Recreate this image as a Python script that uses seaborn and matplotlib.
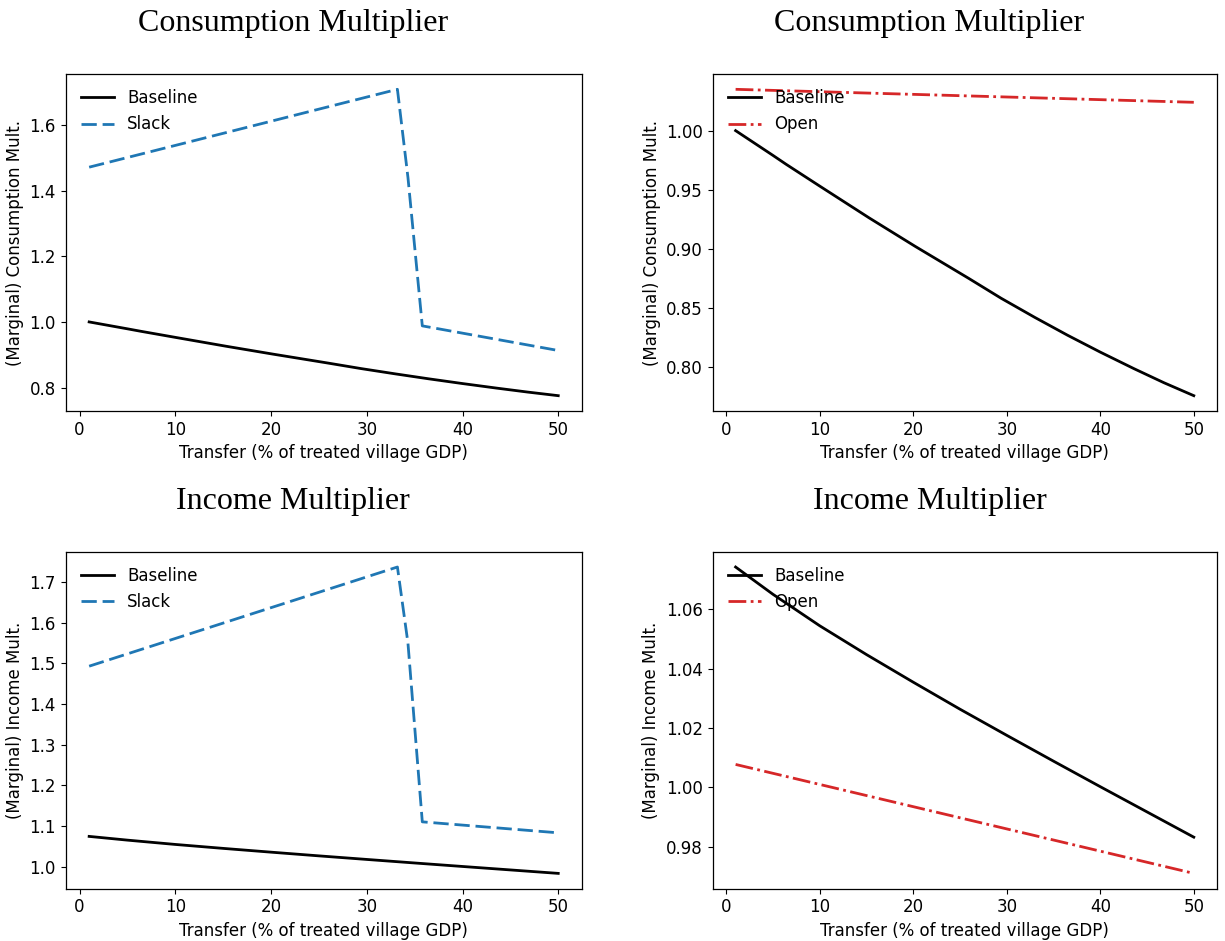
import matplotlib
matplotlib.use("Agg")
import matplotlib.pyplot as plt
import seaborn as sns

# Transfer sizes (% of treated village GDP) and multiplier paths
x_baseline_cons = [1, 5, 6.4, 10, 15.3, 20.2, 25.9, 29.4, 33, 36.5, 40, 43.6, 46.8, 50]
cons_baseline = [1.000, 0.979, 0.9715, 0.953, 0.926, 0.902, 0.875, 0.858, 0.8418, 0.8267,
                 0.8124, 0.7984, 0.7865, 0.7755]

x_baseline_inc = [1, 5, 10, 15, 20, 25, 30, 35, 40, 45, 50]
income_baseline = [1.0742, 1.0650, 1.0544, 1.0447, 1.0354, 1.0263, 1.0175, 1.0088, 1.0002,
                   0.9917, 0.9832]

x_slack = [1, 33.2, 34.3, 35.8, 50]
cons_slack = [1.471, 1.708, 1.44, 0.988, 0.913]
income_slack = [1.493, 1.737, 1.55, 1.110, 1.083]

x_open = [1, 50]
cons_open = [1.035, 1.024]
income_open = [1.0077, 0.971]

panel_titles = ["Consumption Multiplier", "Income Multiplier"]
y_labels = ["(Marginal) Consumption Mult.", "(Marginal) Income Mult."]
x_label = "Transfer (% of treated village GDP)"

plt.rcParams.update({
    "font.family": "DejaVu Sans",
    "font.size": 12,
    "axes.linewidth": 0.9,
})

fig = plt.figure(figsize=(12.25, 9.41), dpi=100)
W, H = 1225, 941

def rect(left, right, top, bottom):
    return [left / W, 1 - bottom / H, (right - left) / W, (bottom - top) / H]

ax_tl = fig.add_axes(rect(65.7, 581.7, 74, 411))
ax_tr = fig.add_axes(rect(712.7, 1216.7, 74, 411))
ax_bl = fig.add_axes(rect(65.7, 581.7, 551.7, 888.7))
ax_br = fig.add_axes(rect(712.7, 1216.7, 551.7, 888.7))

LW = 2.0
slack_color = "#1f77b4"
open_color = "#d62728"

def draw(ax, xb, yb, xo, yo, other_label, other_color, other_ls, other_dashes):
    sns.lineplot(x=xb, y=yb, ax=ax, color="black", lw=LW, label="Baseline",
                 sort=False, estimator=None)
    line_kw = dict(color=other_color, lw=LW, label=other_label, sort=False, estimator=None)
    sns.lineplot(x=xo, y=yo, ax=ax, linestyle=other_ls, **line_kw)
    if other_dashes is not None:
        ax.get_lines()[-1].set_dashes(other_dashes)

draw(ax_tl, x_baseline_cons, cons_baseline, x_slack, cons_slack, "Slack", slack_color, "--", (5.5, 2.1))
draw(ax_tr, x_baseline_cons, cons_baseline, x_open, cons_open, "Open", open_color, "-.", None)
draw(ax_bl, x_baseline_inc, income_baseline, x_slack, income_slack, "Slack", slack_color, "--", (5.5, 2.1))
draw(ax_br, x_baseline_inc, income_baseline, x_open, income_open, "Open", open_color, "-.", None)

title_x = {0: 0.4405, 1: 0.430}
for ax, row, col in [(ax_tl, 0, 0), (ax_tr, 0, 1), (ax_bl, 1, 0), (ax_br, 1, 1)]:
    ax.set_title(panel_titles[row], family="Liberation Serif", fontsize=23, pad=31,
                 x=title_x[col])
    ax.set_ylabel(y_labels[row])
    ax.set_xlabel(x_label)
    ax.set_xticks([0, 10, 20, 30, 40, 50])
    ax.legend(loc="upper left", frameon=False, fontsize=12)

fig.savefig("out.png", dpi=100)
